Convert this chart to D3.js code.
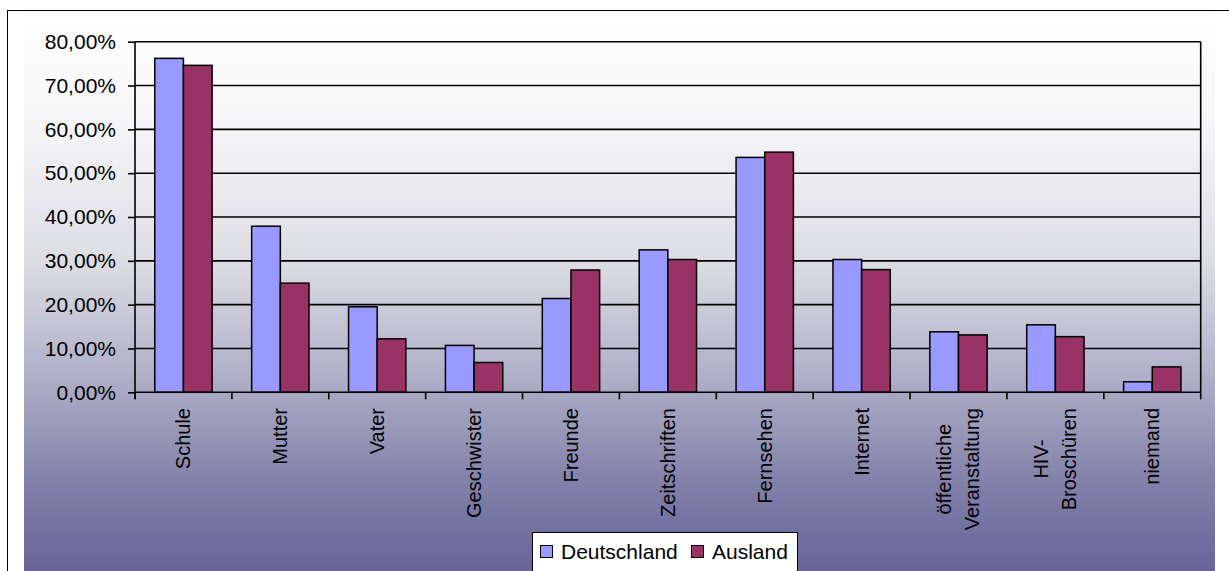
<!DOCTYPE html>
<html>
<head>
<meta charset="utf-8">
<script src="https://cdn.jsdelivr.net/npm/d3@7"></script>
<style>
  html, body { margin: 0; padding: 0; background: #fff; }
  svg { display: block; font-family: "Liberation Sans", Arial, sans-serif; }
</style>
</head>
<body>
<svg id="chart" width="1229" height="571"></svg>
<script>
// Informationsquellen zu HIV/AIDS – Anteil der Nennungen
const categories = ["Schule", "Mutter", "Vater", "Geschwister", "Freunde", "Zeitschriften",
  "Fernsehen", "Internet", "öffentliche\nVeranstaltung", "HIV-\nBroschüren", "niemand"];
const seriesNames = ["Deutschland", "Ausland"];
const deutschland = [76.2, 37.9, 19.5, 10.7, 21.4, 32.5, 53.6, 30.3, 13.8, 15.4, 2.4];
const ausland     = [74.6, 24.9, 12.2, 6.8, 27.9, 30.3, 54.8, 28.0, 13.1, 12.7, 5.8];
const yTicks = [0, 10, 20, 30, 40, 50, 60, 70, 80];
const seriesColors = ["#9999FF", "#993366"];

const svg = d3.select("#chart");
const W = 1229, H = 571;
const plot = { left: 135, right: 1200.7, top: 41.7, bottom: 392.3 };

// background gradient of the chart area
const defs = svg.append("defs");
const grad = defs.append("linearGradient")
  .attr("id", "bg").attr("x1", 0).attr("y1", 0).attr("x2", 0).attr("y2", 1);
[[0, "#ffffff"], [0.2, "#f6f6f8"], [0.45, "#dcdce4"], [0.68, "#a9a9c4"], [0.85, "#7f7fa8"], [1, "#66669a"]]
  .forEach(([o, c]) => grad.append("stop").attr("offset", o).attr("stop-color", c));

svg.append("rect").attr("x", 24).attr("y", 10).attr("width", 1215 - 24).attr("height", H - 10)
  .attr("fill", "url(#bg)");

// outer frame lines
svg.append("line").attr("x1", 7).attr("x2", W).attr("y1", 10.5).attr("y2", 10.5)
  .attr("stroke", "#000").attr("stroke-width", 1);
svg.append("line").attr("x1", 7.5).attr("x2", 7.5).attr("y1", 10).attr("y2", H)
  .attr("stroke", "#000").attr("stroke-width", 1);

// scales
const y = d3.scaleLinear().domain([0, 80]).range([plot.bottom, plot.top]);
const x0 = d3.scaleBand().domain(categories).range([plot.left, plot.right]).padding(0);
const x1 = d3.scaleBand().domain(seriesNames).range([0, x0.bandwidth()])
  .paddingInner(0).paddingOuter(0.69);

// gridlines
const grid = svg.append("g");
grid.selectAll("line").data(yTicks.filter(d => d > 0)).join("line")
  .attr("x1", plot.left).attr("x2", plot.right)
  .attr("y1", d => y(d)).attr("y2", d => y(d))
  .attr("stroke", "#000").attr("stroke-width", 1.6);
// right edge of plot area
svg.append("line").attr("x1", plot.right).attr("x2", plot.right)
  .attr("y1", plot.top).attr("y2", plot.bottom)
  .attr("stroke", "#000").attr("stroke-width", 1.6);

// bars
const rows = categories.map((c, i) => ({ c, vals: [deutschland[i], ausland[i]] }));
const groups = svg.append("g").selectAll("g").data(rows).join("g")
  .attr("transform", d => `translate(${x0(d.c)},0)`);
groups.selectAll("rect").data(d => d.vals.map((v, k) => ({ k, v }))).join("rect")
  .attr("x", d => x1(seriesNames[d.k]))
  .attr("width", x1.bandwidth())
  .attr("y", d => y(d.v))
  .attr("height", d => y(0) - y(d.v))
  .attr("fill", d => seriesColors[d.k])
  .attr("stroke", "#000").attr("stroke-width", 1.5);

// y axis
const yAxis = svg.append("g").attr("transform", `translate(${plot.left},0)`)
  .call(d3.axisLeft(y).tickValues(yTicks).tickSizeOuter(0).tickSize(7).tickPadding(12)
    .tickFormat(d => d3.format(".2f")(d).replace(".", ",") + "%"));
yAxis.select(".domain").attr("stroke", "#000").attr("stroke-width", 1.6)
  .attr("d", `M0,${plot.top}V${plot.bottom + 7}`);
yAxis.selectAll(".tick line").attr("stroke", "#000").attr("stroke-width", 1.6);
yAxis.selectAll(".tick text").attr("font-size", 21).attr("fill", "#000")
  .attr("font-family", "Liberation Sans, Arial, sans-serif");

// x axis: baseline + category boundary ticks
svg.append("line").attr("x1", plot.left).attr("x2", plot.right)
  .attr("y1", plot.bottom).attr("y2", plot.bottom)
  .attr("stroke", "#000").attr("stroke-width", 1.6);
const bounds = categories.map(c => x0(c)).concat([plot.right]);
svg.append("g").selectAll("line").data(bounds).join("line")
  .attr("x1", d => d).attr("x2", d => d)
  .attr("y1", plot.bottom).attr("y2", plot.bottom + 7)
  .attr("stroke", "#000").attr("stroke-width", 1.6);

// rotated category labels, lines centred on each other, block ending at the top
const labelTop = 408, lineGap = 28;
categories.forEach(c => {
  const lines = c.split("\n");
  const cx = x0(c) + x0.bandwidth() / 2;
  const g = svg.append("g");
  const texts = lines.map((ln, i) => g.append("text")
    .attr("font-size", 20).attr("fill", "#000")
    .attr("text-anchor", "middle").attr("dy", "0.35em")
    .text(ln));
  const widths = texts.map(t => t.node().getComputedTextLength());
  const maxW = d3.max(widths);
  const cy = labelTop + maxW / 2;
  texts.forEach((t, i) => {
    const off = (i - (lines.length - 1) / 2) * lineGap;
    t.attr("transform", `translate(${cx + off},${cy}) rotate(-90)`);
  });
});

// legend
const leg = svg.append("g").attr("transform", "translate(532,532)");
leg.append("rect").attr("x", 0.5).attr("y", 0.5).attr("width", 265).attr("height", 50)
  .attr("fill", "#fff").attr("stroke", "#000").attr("stroke-width", 1);
const legX = [8.5, 159.5];
seriesNames.forEach((s, i) => {
  leg.append("rect").attr("x", legX[i]).attr("y", 13.5).attr("width", 12).attr("height", 12)
    .attr("fill", seriesColors[i]).attr("stroke", "#000").attr("stroke-width", 1);
  leg.append("text").attr("x", legX[i] + 20.5).attr("y", 27)
    .attr("font-size", 21).attr("fill", "#000").text(s);
});
</script>
</body>
</html>
